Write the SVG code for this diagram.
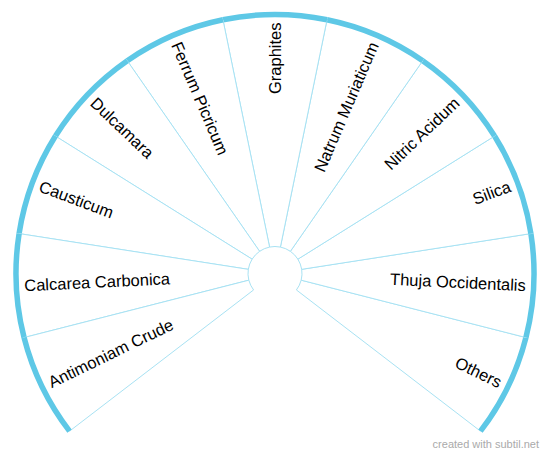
<svg xmlns="http://www.w3.org/2000/svg" width="550" height="455" viewBox="0 0 550 455">
<style>
.sec{fill:#fff;stroke:#a8e2f3;stroke-width:1}
.rim{fill:none;stroke:#5ec8e6;stroke-width:5.5;stroke-linecap:butt}
.lbl{font-family:"Liberation Sans",Arial,sans-serif;font-size:16.5px;fill:#000}
.s{text-anchor:start}
.e{text-anchor:end}
.wm{font-family:"Liberation Sans",Arial,sans-serif;font-size:11px;fill:#aaa;text-anchor:end}
</style>
<rect width="550" height="455" fill="#fff"/>
<g id="connectors"></g>
<g id="others">
<path class="sec" d="M296.42 289.94 L480.48 431.17 A259 259 0 0 0 525.95 337.55 L301.16 280.18 A27 27 0 0 1 296.42 289.94 Z"/>
<path class="rim" d="M480.48 431.17 A259 259 0 0 0 525.95 337.55"/>
<text class="lbl e" transform="translate(500.77 383.17) rotate(25.909)" dy=".35em">Others</text>
</g>
<g id="thuja">
<path class="sec" d="M301.16 280.18 L525.95 337.55 A259 259 0 0 0 530.91 233.59 L301.68 269.34 A27 27 0 0 1 301.16 280.18 Z"/>
<path class="rim" d="M525.95 337.55 A259 259 0 0 0 530.91 233.59"/>
<text class="lbl e" transform="translate(525.72 285.44) rotate(2.727)" dy=".35em">Thuja Occidentalis</text>
</g>
<g id="silica">
<path class="sec" d="M301.68 269.34 L530.91 233.59 A259 259 0 0 0 494.54 136.08 L297.89 259.17 A27 27 0 0 1 301.68 269.34 Z"/>
<path class="rim" d="M530.91 233.59 A259 259 0 0 0 494.54 136.08"/>
<text class="lbl e" transform="translate(510.17 185.79) rotate(-20.455)" dy=".35em">Silica</text>
</g>
<g id="nitric">
<path class="sec" d="M297.89 259.17 L494.54 136.08 A259 259 0 0 0 422.72 60.76 L290.40 251.32 A27 27 0 0 1 297.89 259.17 Z"/>
<path class="rim" d="M494.54 136.08 A259 259 0 0 0 422.72 60.76"/>
<text class="lbl e" transform="translate(456.66 100.30) rotate(-43.636)" dy=".35em">Nitric Acidum</text>
</g>
<g id="natrum">
<path class="sec" d="M290.40 251.32 L422.72 60.76 A259 259 0 0 0 327.04 19.78 L280.42 247.05 A27 27 0 0 1 290.40 251.32 Z"/>
<path class="rim" d="M422.72 60.76 A259 259 0 0 0 327.04 19.78"/>
<text class="lbl e" transform="translate(373.80 42.77) rotate(-66.818)" dy=".35em">Natrum Muriaticum</text>
</g>
<g id="graphites">
<path class="sec" d="M280.42 247.05 L327.04 19.78 A259 259 0 0 0 222.96 19.78 L269.58 247.05 A27 27 0 0 1 280.42 247.05 Z"/>
<path class="rim" d="M327.04 19.78 A259 259 0 0 0 222.96 19.78"/>
<text class="lbl e" transform="translate(275 22.5) rotate(-90)" dy=".35em">Graphites</text>
</g>
<g id="ferrum">
<path class="sec" d="M269.58 247.05 L222.96 19.78 A259 259 0 0 0 127.28 60.76 L259.60 251.32 A27 27 0 0 1 269.58 247.05 Z"/>
<path class="rim" d="M222.96 19.78 A259 259 0 0 0 127.28 60.76"/>
<text class="lbl s" transform="translate(176.20 42.77) rotate(66.818)" dy=".35em">Ferrum Picricum</text>
</g>
<g id="dulcamara">
<path class="sec" d="M259.60 251.32 L127.28 60.76 A259 259 0 0 0 55.46 136.08 L252.11 259.17 A27 27 0 0 1 259.60 251.32 Z"/>
<path class="rim" d="M127.28 60.76 A259 259 0 0 0 55.46 136.08"/>
<text class="lbl s" transform="translate(93.34 100.30) rotate(43.636)" dy=".35em">Dulcamara</text>
</g>
<g id="causticum">
<path class="sec" d="M252.11 259.17 L55.46 136.08 A259 259 0 0 0 19.09 233.59 L248.32 269.34 A27 27 0 0 1 252.11 259.17 Z"/>
<path class="rim" d="M55.46 136.08 A259 259 0 0 0 19.09 233.59"/>
<text class="lbl s" transform="translate(39.83 185.79) rotate(20.455)" dy=".35em">Causticum</text>
</g>
<g id="calcarea">
<path class="sec" d="M248.32 269.34 L19.09 233.59 A259 259 0 0 0 24.05 337.55 L248.84 280.18 A27 27 0 0 1 248.32 269.34 Z"/>
<path class="rim" d="M19.09 233.59 A259 259 0 0 0 24.05 337.55"/>
<text class="lbl s" transform="translate(24.28 285.44) rotate(-2.727)" dy=".35em">Calcarea Carbonica</text>
</g>
<g id="antimoniam">
<path class="sec" d="M248.84 280.18 L24.05 337.55 A259 259 0 0 0 69.52 431.17 L253.58 289.94 A27 27 0 0 1 248.84 280.18 Z"/>
<path class="rim" d="M24.05 337.55 A259 259 0 0 0 69.52 431.17"/>
<text class="lbl s" transform="translate(49.23 383.17) rotate(-25.909)" dy=".35em">Antimoniam Crude</text>
</g>
<text class="wm" x="539" y="447.5">created with subtil.net</text>
</svg>
